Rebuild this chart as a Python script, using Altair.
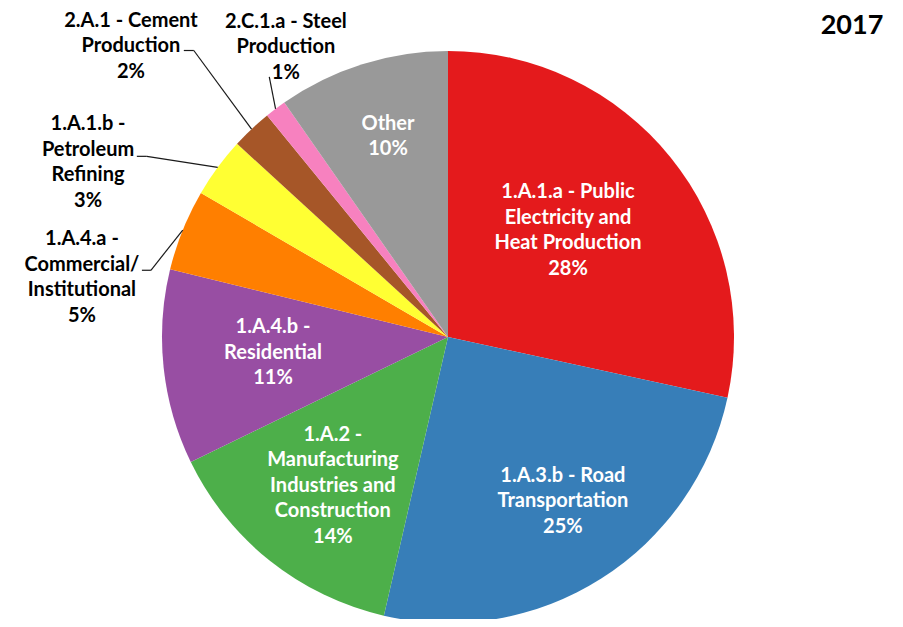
import math
import altair as alt
import pandas as pd

# ---- data ----
categories = [
    "1.A.1.a - Public Electricity and Heat Production",
    "1.A.3.b - Road Transportation",
    "1.A.2 - Manufacturing Industries and Construction",
    "1.A.4.b - Residential",
    "1.A.4.a - Commercial/Institutional",
    "1.A.1.b - Petroleum Refining",
    "2.A.1 - Cement Production",
    "2.C.1.a - Steel Production",
    "Other",
]
values = [28.4, 25.2, 14.2, 11.0, 4.6, 3.4, 2.3, 1.2, 9.7]
pct_labels = ["28%", "25%", "14%", "11%", "5%", "3%", "2%", "1%", "10%"]
label_text = [
    "1.A.1.a - Public\nElectricity and\nHeat Production",
    "1.A.3.b - Road\nTransportation",
    "1.A.2 -\nManufacturing\nIndustries and\nConstruction",
    "1.A.4.b -\nResidential",
    "1.A.4.a -\nCommercial/\nInstitutional",
    "1.A.1.b -\nPetroleum\nRefining",
    "2.A.1 - Cement\nProduction",
    "2.C.1.a - Steel\nProduction",
    "Other",
]
colors = ["#E41A1C", "#377EB8", "#4DAF4A", "#984EA3", "#FF7F00",
          "#FFFF33", "#A65628", "#F781BF", "#999999"]
title_text = "2017"

# ---- layout (not data) ----
W, H = 887, 611
CX, CY, R = 440, 329, 286
LH = 25.5
label_r = [160.4, 200.3, 188.2, 175.7, 370.9, 400.0, 433.0, 335.7, 209.3]
label_da = [-2.7, -2.6, -0.8, 0.9, -12.7, -10.5, -3.7, 8.2, 0.8]
label_dy = [0, 0, 0, 0, 0, 0, 4, 4, 0]
inside = [True, True, True, True, False, False, False, False, True]
elbow_r = {4: 304.5, 5: 351.2, 6: 383.0, 7: 315.7}
elbow_da = {4: -9.3, 5: -5.4, 6: 1.8, 7: 2.6}
tail = {4: 9, 5: 10, 6: 10, 7: 0}


def polar(r, deg):
    a = math.radians(deg)
    return CX + r * math.sin(a), CY - r * math.cos(a)


total = sum(values)
mids = []
cum = 0.0
for v in values:
    mids.append((cum + v / 2) / total * 360.0)
    cum += v

slices = pd.DataFrame({"category": categories, "value": values,
                       "order": list(range(len(values)))})

lab_rows = []
for i in range(len(values)):
    x, y = polar(label_r[i], mids[i] + label_da[i])
    txt = label_text[i] + "\n" + pct_labels[i]
    n = txt.count("\n") + 1
    lab_rows.append({"x": x, "y": y - (n - 1) * LH / 2 + label_dy[i],
                     "text": txt,
                     "fc": "white" if inside[i] else "black"})
labels = pd.DataFrame(lab_rows)

seg_rows = []
for i in elbow_r:
    sx, sy = polar(R, mids[i])
    ex, ey = polar(elbow_r[i], mids[i] + elbow_da[i])
    seg_rows.append({"x": sx, "y": sy, "x2": ex, "y2": ey})
    if tail[i]:
        seg_rows.append({"x": ex, "y": ey, "x2": ex - tail[i], "y2": ey})
segs = pd.DataFrame(seg_rows)

arcs = alt.Chart(slices).mark_arc(radius=R).encode(
    theta=alt.Theta("value:Q", stack=True),
    color=alt.Color("category:N", scale=alt.Scale(domain=categories, range=colors), legend=None),
    order=alt.Order("order:Q"),
    x=alt.value(CX),
    y=alt.value(CY),
)

leaders = alt.Chart(segs).mark_rule(color="#1a1a1a", strokeWidth=1.2).encode(
    x=alt.X("x:Q", scale=None),
    y=alt.Y("y:Q", scale=None),
    x2="x2:Q",
    y2="y2:Q",
)

texts = alt.Chart(labels).mark_text(
    font="Lato", fontWeight="bold", fontSize=20, lineBreak="\n", lineHeight=LH,
    align="center", baseline="middle",
).encode(
    x=alt.X("x:Q", scale=None),
    y=alt.Y("y:Q", scale=None),
    text="text:N",
    color=alt.Color("fc:N", scale=None),
)

title = alt.Chart(pd.DataFrame({"t": [title_text]})).mark_text(
    font="Lato", fontWeight="bold", fontSize=27, align="center", baseline="top",
).encode(x=alt.value(844), y=alt.value(5), text="t:N", color=alt.value("black"))

chart = alt.layer(arcs, leaders, texts, title).properties(
    width=W, height=H, padding=0, autosize="none"
).configure_view(stroke=None)

chart.save("out.html", embed_options={"renderer": "svg", "actions": False})
